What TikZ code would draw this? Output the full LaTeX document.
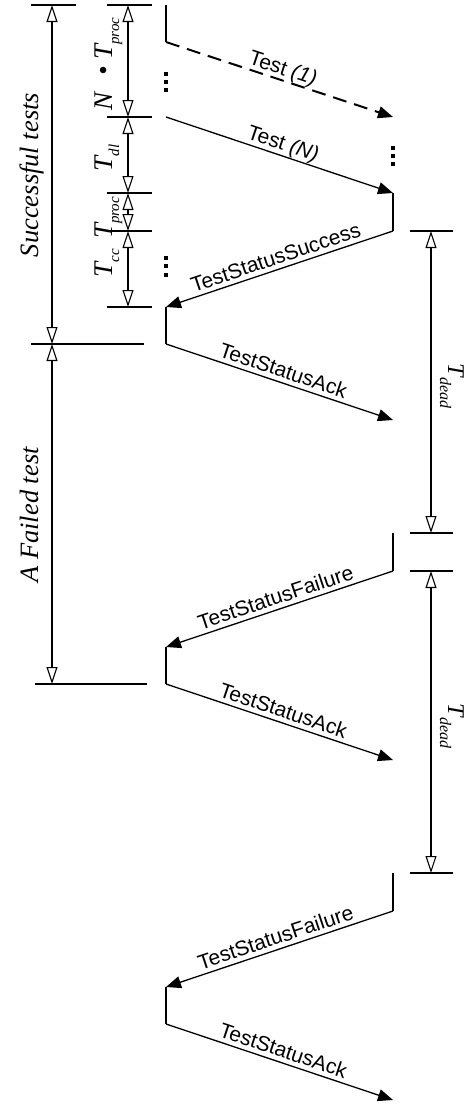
\documentclass[tikz,border=0pt]{standalone}
\usepackage{fontspec}
\setmainfont{Liberation Serif}
\setsansfont{Liberation Sans}
\usetikzlibrary{arrows.meta}

% lowered, smaller index text: size, drop, text
\newcommand{\lowidx}[3]{\raisebox{-#2}{\fontsize{#1}{#1}\selectfont #3}}

\begin{document}
\begin{tikzpicture}[x=1pt,y=-1pt,
  lifeline/.style={line width=1.5pt},
  msg/.style={line width=1.3pt,-{Triangle[length=15pt,width=12pt]}},
  msgdashed/.style={msg,line width=2pt,dash pattern=on 14pt off 8pt},
  msglabel/.style={sloped,anchor=base,inner sep=0pt,pos=0.5,
    font=\sffamily\fontsize{21}{21}\selectfont},
  dimline/.style={line width=1.1pt,
    {Triangle[length=17pt,width=11pt,fill=white]}-{Triangle[length=17pt,width=11pt,fill=white]}},
  tickline/.style={line width=1.1pt},
  tickend/.style={line width=2.6pt},
  spanlabel/.style={rotate=90,anchor=base,inner sep=0pt,
    font=\itshape\fontsize{26.5}{26.5}\selectfont},
  timelabel/.style={rotate=90,anchor=base,inner sep=0pt,
    font=\itshape\fontsize{27}{27}\selectfont},
  deadlabel/.style={rotate=-90,anchor=base,inner sep=0pt,
    font=\itshape\fontsize{24}{24}\selectfont},
  ellipsisdot/.style={rectangle,fill=black,inner sep=0pt,minimum size=4pt}
]
\useasboundingbox (0,0) rectangle (474,1106);

% ---------- lifeline points ----------
\coordinate (l0) at (166,5);
\coordinate (l1) at (166,42);
\coordinate (r1) at (393,117);
\coordinate (l2) at (166,117);
\coordinate (r2) at (393,193);
\coordinate (r3) at (393,231);
\coordinate (l3) at (166,307);
\coordinate (l4) at (166,344);
\coordinate (r4) at (393,420);
\coordinate (r5) at (393,533);
\coordinate (r6) at (393,571);
\coordinate (l5) at (166,647);
\coordinate (l6) at (166,684);
\coordinate (r7) at (393,760);
\coordinate (r8) at (393,873);
\coordinate (r9) at (393,911);
\coordinate (l7) at (166,987);
\coordinate (l8) at (166,1024);
\coordinate (r10) at (393,1100);

% ---------- processing segments ----------
\draw[lifeline] (l0) -- (l1);
\draw[lifeline] (r2) -- (r3);
\draw[lifeline] (l3) -- (l4);
\draw[lifeline] (r5) -- (r6);
\draw[lifeline] (l5) -- (l6);
\draw[lifeline] (r8) -- (r9);
\draw[lifeline] (l7) -- (l8);

% ---------- messages ----------
\draw[msgdashed] (l1) -- node[msglabel]{\raisebox{5pt}{Test \textit{(1)}}} (r1);
\draw[msg] (l2) -- node[msglabel]{\raisebox{5pt}{Test \textit{(N)}}} (r2);
\draw[msg] (r3) -- node[msglabel]{\raisebox{5pt}{TestStatusSuccess}} (l3);
\draw[msg] (l4) -- node[msglabel]{\raisebox{5pt}{TestStatusAck}} (r4);
\draw[msg] (r6) -- node[msglabel]{\raisebox{5pt}{TestStatusFailure}} (l5);
\draw[msg] (l6) -- node[msglabel]{\raisebox{5pt}{TestStatusAck}} (r7);
\draw[msg] (r9) -- node[msglabel]{\raisebox{5pt}{TestStatusFailure}} (l7);
\draw[msg] (l8) -- node[msglabel]{\raisebox{5pt}{TestStatusAck}} (r10);

% ---------- vertical ellipses ----------
\node[ellipsisdot] (ea1) at (166,74) {};
\node[ellipsisdot] (ea2) at (166,82) {};
\node[ellipsisdot] (ea3) at (166,90) {};
\node[ellipsisdot] (eb1) at (393,147.5) {};
\node[ellipsisdot] (eb2) at (393,155.5) {};
\node[ellipsisdot] (eb3) at (393,164) {};
\node[ellipsisdot] (ec1) at (166,257.5) {};
\node[ellipsisdot] (ec2) at (166,266) {};
\node[ellipsisdot] (ec3) at (166,274.5) {};

% ---------- outer dimensions ----------
\coordinate (oA) at (52,5);
\coordinate (oB) at (52,344);
\coordinate (oC) at (52,684);
\draw[tickline] (31,5) -- (76,5);
\draw[tickend] (67,5) -- (76,5);
\draw[tickline] (31,344) -- (144,344);
\draw[tickend] (123,344) -- (144,344);
\draw[tickline] (35,684) -- (147,684);
\draw[tickend] (127,684) -- (147,684);
\draw[dimline] (oA) -- (oB);
\draw[dimline] (oB) -- (oC);
\node[spanlabel] (succ) at (38,175) {Successful tests};
\node[spanlabel] (fail) at (38,515) {A Failed test};

% ---------- inner dimensions ----------
\coordinate (iA) at (128,5);
\coordinate (iB) at (128,117);
\coordinate (iC) at (128,193);
\coordinate (iD) at (128,231);
\coordinate (iE) at (128,307);
\foreach \yy in {5,117,193,231,307}{
  \draw[tickline] (107,\yy) -- (152,\yy);
  \draw[tickend] (142,\yy) -- (152,\yy);
}
\draw[dimline] (iA) -- (iB);
\draw[dimline] (iB) -- (iC);
\draw[dimline] (iC) -- (iD);
\draw[dimline] (iD) -- (iE);
\node[timelabel] (tnproc) at (112,64) {N\hspace{0.6em}\textbullet\ T\lowidx{15pt}{7pt}{proc}};
\node[timelabel] (tdl) at (112,158) {T\lowidx{15pt}{7pt}{dl}};
\node[timelabel] (tproc) at (112,218) {T\lowidx{15pt}{7pt}{proc}};
\node[timelabel] (tcc) at (112,263) {T\lowidx{15pt}{7pt}{cc}};

% ---------- dead-time dimensions ----------
\coordinate (dA) at (431,231);
\coordinate (dB) at (431,533);
\coordinate (dC) at (431,571);
\coordinate (dD) at (431,873);
\foreach \yy in {231,533,571,873}{
  \draw[tickline] (410,\yy) -- (453,\yy);
  \draw[tickend] (443,\yy) -- (453,\yy);
}
\draw[dimline] (dA) -- (dB);
\draw[dimline] (dC) -- (dD);
\node[deadlabel] (tdead1) at (448,386) {T\lowidx{16pt}{8pt}{dead}};
\node[deadlabel] (tdead2) at (448,726) {T\lowidx{16pt}{8pt}{dead}};
\end{tikzpicture}
\end{document}
